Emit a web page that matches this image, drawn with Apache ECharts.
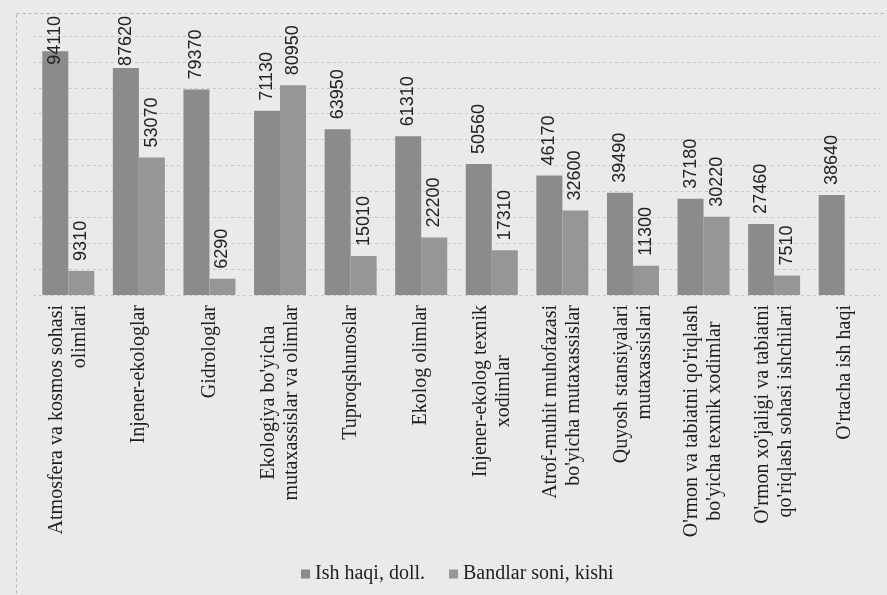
<!DOCTYPE html>
<html><head><meta charset="utf-8">
<script src="https://cdn.jsdelivr.net/npm/echarts@6/dist/echarts.min.js"></script>
<style>html,body{margin:0;padding:0;background:#e9eaea;} #c{width:887px;height:595px;}</style>
</head><body><div id="c"></div>
<script>
const categories = [
  "Atmosfera va kosmos sohasi\nolimlari",
  "Injener-ekologlar",
  "Gidrologlar",
  "Ekologiya bo'yicha\nmutaxassislar va olimlar",
  "Tuproqshunoslar",
  "Ekolog olimlar",
  "Injener-ekolog texnik\nxodimlar",
  "Atrof-muhit muhofazasi\nbo'yicha mutaxassislar",
  "Quyosh stansiyalari\nmutaxassislari",
  "O'rmon va tabiatni qo'riqlash\nbo'yicha texnik xodimlar",
  "O'rmon xo'jaligi va tabiatni\nqo'riqlash sohasi ishchilari",
  "O'rtacha ish haqi"
];
const ishHaqi = [94110, 87620, 79370, 71130, 63950, 61310, 50560, 46170, 39490, 37180, 27460, 38640];
const bandlar = [9310, 53070, 6290, 80950, 15010, 22200, 17310, 32600, 11300, 30220, 7510, null];
const seriesNames = ["Ish haqi, doll.", "Bandlar soni, kishi"];

// wrapped category labels whose lines are centred (others keep lines flush to the axis)
const CENTERED_LABELS = [3, 6, 9];

const chart = echarts.init(document.getElementById('c'), null, {renderer: 'canvas'});
const LABEL_FONT = '18px "Liberation Sans"';
const LABEL_DIST = 10;
const LABEL_TOP = 16;

function baseSeries(name, data, color) {
  return {
    name: name, type: 'bar', data: data, barWidth: 26, barGap: '0%',
    itemStyle: {color: color},
    label: {
      show: true, position: 'top', distance: LABEL_DIST, rotate: 90,
      align: 'left', verticalAlign: 'middle',
      fontFamily: 'Liberation Sans', fontSize: 18, color: '#222'
    }
  };
}

const catText = {fontFamily: 'Liberation Serif', fontSize: 20, lineHeight: 23, color: '#1e1e1e'};

const option = {
  backgroundColor: '#e9eaea',
  animation: false,
  graphic: [{
    type: 'rect', left: 14, top: 11, silent: true,
    shape: {width: 900, height: 620},
    style: {fill: 'none', stroke: '#b5b5b5', lineWidth: 1, lineDash: [3, 3]}
  }],
  grid: {left: 33, right: 7, top: 36, bottom: 300},
  legend: {
    left: 296, top: 559, itemWidth: 9, itemHeight: 9, itemGap: 24, icon: 'rect',
    textStyle: {fontFamily: 'Liberation Serif', fontSize: 20, color: '#1e1e1e'},
    data: seriesNames
  },
  xAxis: {
    type: 'category', data: categories,
    axisLine: {show: false}, axisTick: {show: false},
    axisLabel: {
      interval: 0, rotate: 90, margin: 10,
      formatter: function (v, i) {
        const key = CENTERED_LABELS.indexOf(i) >= 0 ? 'c' : 'r';
        return v.split('\n').map(function (l) { return '{' + key + '|' + l + '}'; }).join('\n');
      },
      rich: {
        c: Object.assign({align: 'center'}, catText),
        r: Object.assign({align: 'right'}, catText)
      }
    }
  },
  yAxis: {
    type: 'value', min: 0, max: 100000, interval: 10000,
    axisLabel: {show: false}, axisLine: {show: false}, axisTick: {show: false},
    splitLine: {show: true, lineStyle: {color: '#c8c8c8', type: [3, 3], width: 1}}
  },
  series: [
    baseSeries(seriesNames[0], ishHaqi, '#8b8b8b'),
    baseSeries(seriesNames[1], bandlar, '#969696')
  ]
};
chart.setOption(option);

const ctx = document.createElement('canvas').getContext('2d');
ctx.font = LABEL_FONT;
function clamped(vals) {
  return vals.map(function (v) {
    if (v == null) return null;
    const top = chart.convertToPixel({yAxisIndex: 0}, v);
    const len = ctx.measureText(String(v)).width;
    if (top - LABEL_DIST - len < LABEL_TOP) {
      return {value: v, label: {position: ['50%', LABEL_TOP - top], align: 'right', verticalAlign: 'middle'}};
    }
    return v;
  });
}
chart.setOption({series: [{data: clamped(ishHaqi)}, {data: clamped(bandlar)}]});
</script>
</body></html>
